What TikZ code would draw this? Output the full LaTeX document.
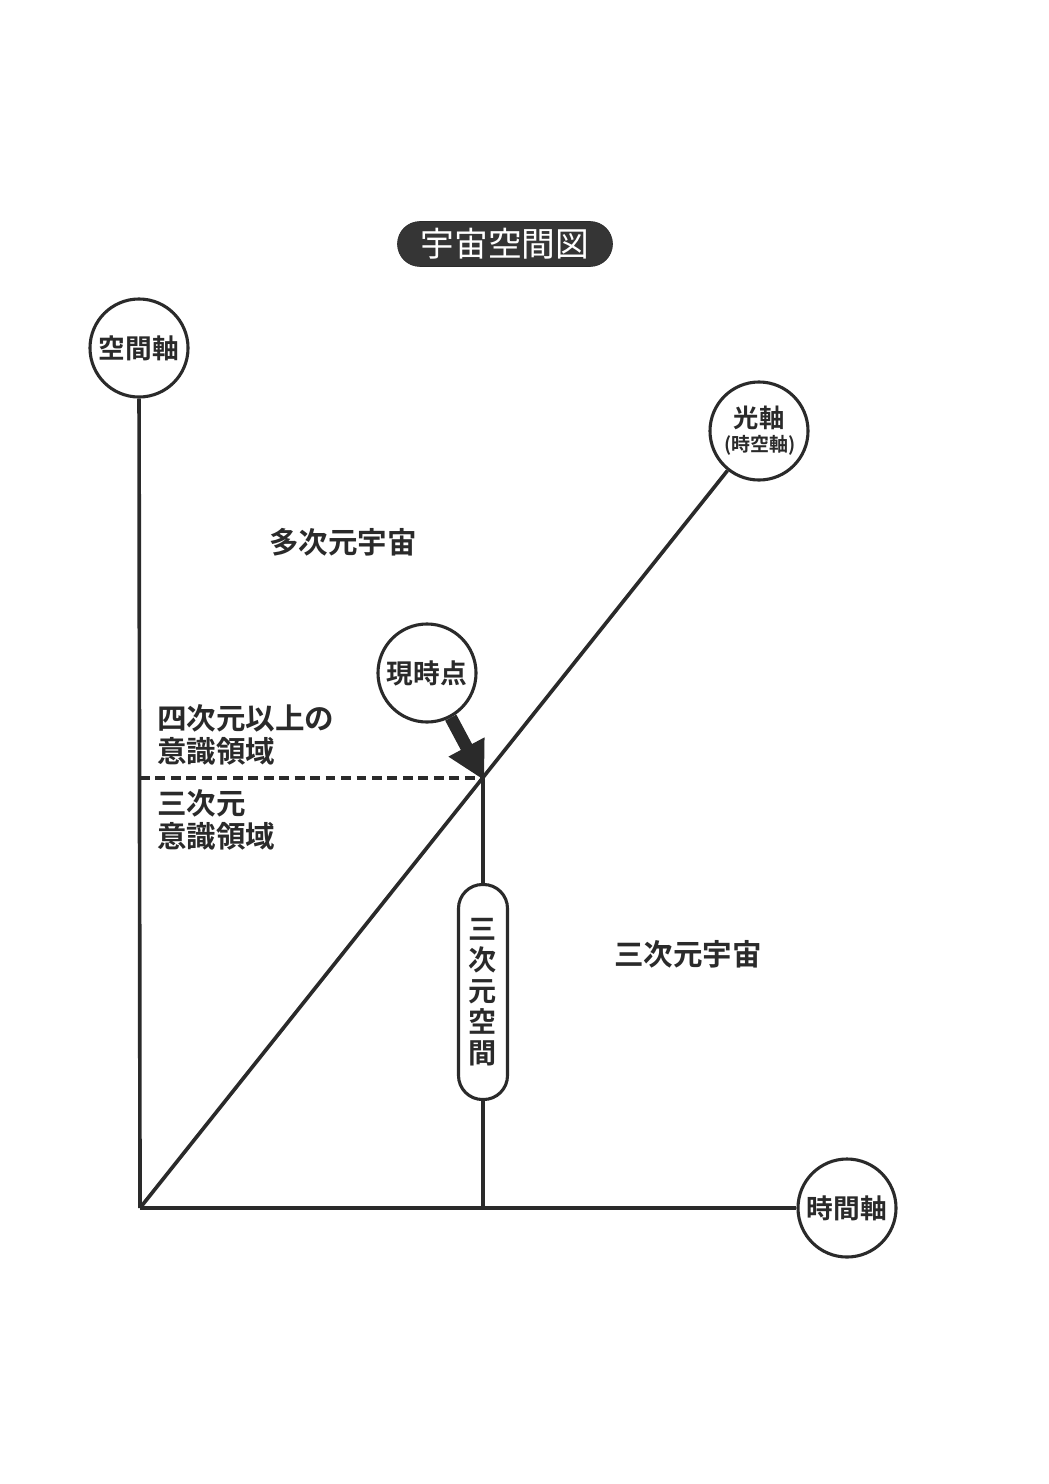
\documentclass[tikz,border=0pt]{standalone}
\usepackage{fontspec}
\newfontfamily\jp{Noto Sans CJK JP}
\newfontfamily\jpb{Noto Sans CJK JP Bold}
\usetikzlibrary{arrows.meta}
\definecolor{ink}{HTML}{2A2A2A}
\definecolor{pillgray}{HTML}{353535}
\tikzset{
  axis/.style={draw=ink, line width=2.6pt},
  axiscircle/.style={circle, draw=ink, line width=2.2pt, fill=white, minimum size=2.45cm, inner sep=0pt, align=center, font=\jpb\fontsize{19}{21}\selectfont, text=ink},
  lbl/.style={inner sep=0pt, text=ink, font=\jpb\fontsize{21}{24}\selectfont},
  titlebox/.style={draw=ink, fill=pillgray, rounded corners=0.56cm, minimum width=5.375cm, minimum height=1.125cm, inner sep=0pt, text=white, font=\jp\fontsize{24}{26}\selectfont},
  vpill/.style={draw=ink, line width=2.2pt, fill=white, rounded corners=0.6cm, minimum width=1.225cm, minimum height=5.375cm, inner sep=0pt, align=center, text=ink, font=\jpb\fontsize{20}{22}\selectfont},
  bigarrow/.style={draw=ink, line width=9pt, -{Triangle[length=27pt, width=27pt]}, shorten >=-2pt}
}
\begin{document}
\begin{tikzpicture}[x=0.025cm, y=-0.025cm]
\useasboundingbox (0,0) rectangle (1049,1484);
% coordinates
\coordinate (O) at (140,1208);
\coordinate (now) at (483,778);
\coordinate (dl) at (140,778);
\coordinate (nb) at (483,1208);
% title
\node[titlebox] (title) at (505,244) {宇宙空間図};
% axis circles
\node[axiscircle] (kuukan) at (139,348) {空間軸};
\node[axiscircle] (jikan) at (847,1208) {時間軸};
\node[axiscircle] (hikari) at (759,431) {};
\node[inner sep=0pt, text=ink, font=\jpb\fontsize{18}{20}\selectfont] (hikaritxt) at (759,418) {光軸};
\node[inner sep=0pt, text=ink, font=\jpb\fontsize{13.5}{15}\selectfont] (jikuutxt) at (760,445) {(時空軸)};
\node[axiscircle] (genji) at (427,673) {現時点};
% axes
\draw[axis] (kuukan) -- (O);
\draw[axis] (O) -- (jikan);
\draw[axis] (O) -- (hikari);
\draw[axis] (now) -- (nb);
\draw[draw=ink, line width=2.6pt, dash pattern=on 7pt off 4pt] (dl) -- (now);
% pill
\node[vpill] (sanjigen) at (483,992) {三\\次\\元\\空\\間};
% arrow
\draw[bigarrow] (genji) -- (now);
% labels
\node[lbl] (tajigen) at (343,542) {多次元宇宙};
\node[lbl, anchor=west, align=left] (yonjigen) at (157,735) {四次元以上の\\意識領域};
\node[lbl, anchor=west, align=left] (sanjigenishiki) at (157,820) {三次元\\意識領域};
\node[lbl] (sanjigenuchu) at (688,954) {三次元宇宙};
\end{tikzpicture}
\end{document}
